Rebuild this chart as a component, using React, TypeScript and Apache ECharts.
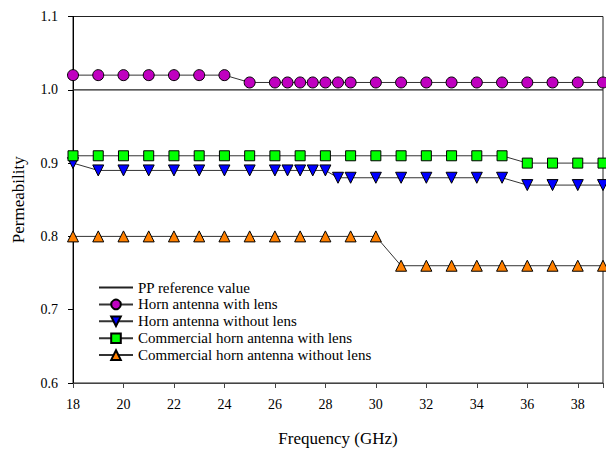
import React, { useEffect, useRef } from "react";
import * as echarts from "echarts";

const refX = [18, 39];
const refY = [1.0, 1.0];

const hornLensX = [18, 19, 20, 21, 22, 23, 24, 25, 26, 26.5, 27, 27.5, 28, 28.5, 29, 30, 31, 32, 33, 34, 35, 36, 37, 38, 39];
const hornLensY = [1.02, 1.02, 1.02, 1.02, 1.02, 1.02, 1.02, 1.01, 1.01, 1.01, 1.01, 1.01, 1.01, 1.01, 1.01, 1.01, 1.01, 1.01, 1.01, 1.01, 1.01, 1.01, 1.01, 1.01, 1.01];

const hornNoLensX = [18, 19, 20, 21, 22, 23, 24, 25, 26, 26.5, 27, 27.5, 28, 28.5, 29, 30, 31, 32, 33, 34, 35, 36, 37, 38, 39];
const hornNoLensY = [0.9, 0.89, 0.89, 0.89, 0.89, 0.89, 0.89, 0.89, 0.89, 0.89, 0.89, 0.89, 0.89, 0.88, 0.88, 0.88, 0.88, 0.88, 0.88, 0.88, 0.88, 0.87, 0.87, 0.87, 0.87];

const commLensX = [18, 19, 20, 21, 22, 23, 24, 25, 26, 27, 28, 29, 30, 31, 32, 33, 34, 35, 36, 37, 38, 39];
const commLensY = [0.91, 0.91, 0.91, 0.91, 0.91, 0.91, 0.91, 0.91, 0.91, 0.91, 0.91, 0.91, 0.91, 0.91, 0.91, 0.91, 0.91, 0.91, 0.9, 0.9, 0.9, 0.9];

const commNoLensX = [18, 19, 20, 21, 22, 23, 24, 25, 26, 27, 28, 29, 30, 31, 32, 33, 34, 35, 36, 37, 38, 39];
const commNoLensY = [0.8, 0.8, 0.8, 0.8, 0.8, 0.8, 0.8, 0.8, 0.8, 0.8, 0.8, 0.8, 0.8, 0.76, 0.76, 0.76, 0.76, 0.76, 0.76, 0.76, 0.76, 0.76];

const seriesNames = [
  "PP reference value",
  "Horn antenna with lens",
  "Horn antenna without lens",
  "Commercial horn antenna with lens",
  "Commercial horn antenna without lens",
];

const FONT = "'Liberation Serif', 'Times New Roman', Times, serif";

function zip(xs: number[], ys: number[]) {
  return xs.map((x, i) => [x, ys[i]]);
}

export default function App() {
  const ref = useRef<HTMLDivElement>(null);
  useEffect(() => {
    if (!ref.current) return;
    const chart = echarts.init(ref.current, undefined, { renderer: "svg" });
    const lineStyle = { color: "#333", width: 1 };
    const mk = (name: string, xs: number[], ys: number[], symbol: string, size: number, color: string, rotate = 0) => ({
      name,
      type: "line",
      data: zip(xs, ys),
      symbol,
      symbolSize: size,
      symbolRotate: rotate,
      showAllSymbol: true,
      lineStyle,
      itemStyle: { color, borderColor: "#000", borderWidth: 1 },
      emphasis: { disabled: true },
    });
    chart.setOption({
      animation: false,
      backgroundColor: "#fff",
      textStyle: { fontFamily: FONT },
      grid: {
        left: 73,
        right: -2.5,
        top: 16.5,
        bottom: 61.3,
        show: true,
        borderColor: "#222",
        borderWidth: 1,
        backgroundColor: "transparent",
      },
      legend: {
        orient: "vertical",
        left: 98,
        top: 280,
        padding: 0,
        itemWidth: 34,
        itemHeight: 12,
        itemGap: 1.9,
        data: seriesNames,
        textStyle: { fontFamily: FONT, fontSize: 15, color: "#000" },
      },
      xAxis: {
        type: "value",
        min: 18,
        max: 39,
        interval: 2,
        name: "Frequency (GHz)",
        nameLocation: "middle",
        nameGap: 47,
        nameTextStyle: { fontFamily: FONT, fontSize: 17, color: "#000" },
        axisLine: { show: true, lineStyle: { color: "#444", width: 1.2 } },
        axisTick: { show: true, inside: false, length: 5, lineStyle: { color: "#444" } },
        axisLabel: {
          fontFamily: FONT,
          fontSize: 14,
          color: "#000",
          margin: 14,
          formatter: (v: number) => (v % 2 === 0 ? String(v) : ""),
        },
        splitLine: { show: false },
      },
      yAxis: {
        type: "value",
        min: 0.6,
        max: 1.1,
        interval: 0.1,
        name: "Permeability",
        nameLocation: "middle",
        nameGap: 46,
        nameTextStyle: { fontFamily: FONT, fontSize: 17, color: "#000" },
        axisLine: { show: true, lineStyle: { color: "#000", width: 1 } },
        axisTick: { show: true, inside: false, length: 5, lineStyle: { color: "#000" } },
        axisLabel: {
          fontFamily: FONT,
          fontSize: 14,
          color: "#000",
          margin: 15,
          formatter: (v: number) => v.toFixed(1),
        },
        splitLine: { show: false },
      },
      series: [
        {
          name: seriesNames[0],
          type: "line",
          data: zip(refX, refY),
          symbol: "none",
          lineStyle: { color: "#222", width: 1.2 },
          itemStyle: { color: "transparent", borderWidth: 0, borderColor: "transparent" },
          emphasis: { disabled: true },
        },
        mk(seriesNames[1], hornLensX, hornLensY, "circle", 11, "#c000c0"),
        mk(seriesNames[2], hornNoLensX, hornNoLensY, "triangle", 11, "#0000ff", 180),
        mk(seriesNames[3], commLensX, commLensY, "rect", 10, "#00ff00"),
        mk(seriesNames[4], commNoLensX, commNoLensY, "triangle", 11, "#ff8000"),
      ],
    });
    return () => chart.dispose();
  }, []);
  return (
    <div
      ref={ref}
      style={{ position: "absolute", left: 0, top: 0, width: 606, height: 452, background: "#fff" }}
    />
  );
}
